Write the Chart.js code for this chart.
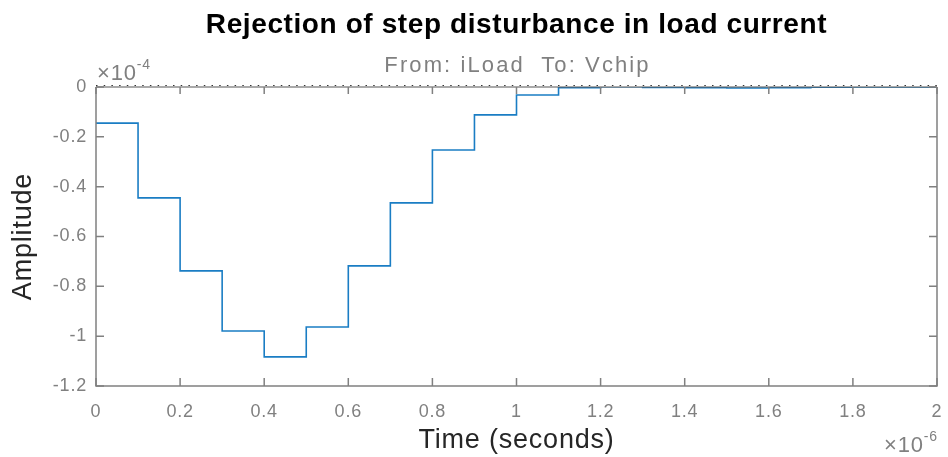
<!DOCTYPE html>
<html>
<head>
<meta charset="utf-8">
<script src="https://cdn.jsdelivr.net/npm/chart.js@4"></script>
<style>
  html, body { margin: 0; padding: 0; background: #fff; }
  #wrap { width: 948px; height: 457px; }
</style>
</head>
<body>
<div id="wrap"><canvas id="stepChart"></canvas></div>
<script>
// time in units of 1e-6 s, amplitude in units of 1e-4
const times = [0, 0.1, 0.2, 0.3, 0.4, 0.5, 0.6, 0.7, 0.8, 0.9, 1.0,
               1.1, 1.2, 1.3, 1.4, 1.5, 1.6, 1.7, 1.8, 1.9, 2.0];
const amplitude = [-0.145, -0.445, -0.738, -0.979, -1.083, -0.963, -0.718, -0.465, -0.253, -0.112, -0.032,
                   -0.003, 0.001, -0.002, -0.003, -0.004, -0.003, -0.001, 0, 0, 0];
const xTicks = [0, 0.2, 0.4, 0.6, 0.8, 1, 1.2, 1.4, 1.6, 1.8, 2];
const yTicks = [0, -0.2, -0.4, -0.6, -0.8, -1, -1.2];

const titleText = 'Rejection of step disturbance in load current';
const subtitleText = 'From: iLoad  To: Vchip';
const gray = '#808080';
const font = 'Helvetica, Arial, "Liberation Sans", sans-serif';

// MATLAB text looks a little wider than canvas text
const wideText = {
  id: 'wideText',
  beforeDraw(chart) { chart.ctx.letterSpacing = '0.8px'; }
};

// draws the MATLAB-ish frame: inward ticks, dotted zero line, titles and exponents
const matlabFrame = {
  id: 'matlabFrame',
  afterDatasetsDraw(chart) {
    const { ctx, chartArea: a, scales: { x, y } } = chart;
    ctx.save();
    // dotted zero line on top
    ctx.strokeStyle = '#333';
    ctx.lineWidth = 1.2;
    ctx.setLineDash([1.5, 6.2]);
    const y0 = y.getPixelForValue(0);
    ctx.beginPath();
    ctx.moveTo(a.left, y0 - 1.5);
    ctx.lineTo(a.right, y0 - 1.5);
    ctx.stroke();
    ctx.setLineDash([]);
    ctx.strokeStyle = '#555';
    ctx.beginPath();
    ctx.moveTo(a.left, y0);
    ctx.lineTo(a.right, y0);
    ctx.stroke();

    // box on left, bottom, right
    ctx.strokeStyle = gray;
    ctx.lineWidth = 1.5;
    ctx.beginPath();
    ctx.moveTo(a.left, a.top);
    ctx.lineTo(a.left, a.bottom);
    ctx.lineTo(a.right, a.bottom);
    ctx.lineTo(a.right, a.top);
    ctx.stroke();

    // inward ticks
    ctx.beginPath();
    xTicks.forEach(v => {
      const px = x.getPixelForValue(v);
      ctx.moveTo(px, a.bottom);
      ctx.lineTo(px, a.bottom - 8);
      ctx.moveTo(px, a.top);
      ctx.lineTo(px, a.top + 7);
    });
    yTicks.forEach(v => {
      const py = y.getPixelForValue(v);
      ctx.moveTo(a.left, py);
      ctx.lineTo(a.left + 8, py);
      ctx.moveTo(a.right, py);
      ctx.lineTo(a.right - 8, py);
    });
    ctx.stroke();

    // titles
    const cx = (a.left + a.right) / 2;
    ctx.textAlign = 'center';
    ctx.textBaseline = 'middle';
    ctx.fillStyle = '#000';
    ctx.letterSpacing = '0.6px';
    ctx.font = 'bold 28px ' + font;
    ctx.fillText(titleText, cx, 25);
    ctx.fillStyle = gray;
    ctx.letterSpacing = '2.1px';
    ctx.font = '22px ' + font;
    ctx.fillText(subtitleText, cx + 1, 66);

    // exponent labels
    const expo = (px, py, e) => {
      ctx.textAlign = 'left';
      ctx.letterSpacing = '0.8px';
      ctx.font = '22px ' + font;
      ctx.fillText('\u00d710', px, py);
      const w = ctx.measureText('\u00d710').width;
      ctx.font = '14px ' + font;
      ctx.fillText(e, px + w, py - 9);
    };
    expo(a.left + 1, 74, '-4');
    expo(a.right - 53, 446, '-6');
    ctx.restore();
  }
};

new Chart(document.getElementById('stepChart'), {
  type: 'line',
  data: {
    labels: times,
    datasets: [{
      data: times.map((t, i) => ({ x: t, y: amplitude[i] })),
      stepped: 'before',
      borderColor: '#1a7dc4',
      borderWidth: 1.6,
      pointRadius: 0,
      fill: false
    }]
  },
  options: {
    responsive: true,
    maintainAspectRatio: false,
    animation: false,
    layout: { padding: { top: 87, right: 11, left: 0, bottom: 0 } },
    plugins: {
      legend: { display: false },
      tooltip: { enabled: false }
    },
    scales: {
      x: {
        type: 'linear',
        min: 0,
        max: 2,
        afterFit(scale) {
          scale.height = 71;
          scale.paddingLeft = 0;
          scale.paddingRight = 0;
        },
        afterBuildTicks(scale) { scale.ticks = xTicks.map(v => ({ value: v })); },
        border: { display: false },
        grid: { display: false, drawTicks: false },
        ticks: {
          color: gray,
          padding: 15,
          font: { size: 18, family: font },
          callback: v => String(Number(v.toFixed(1)))
        },
        title: {
          display: true,
          text: 'Time (seconds)',
          color: '#262626',
          font: { size: 27, family: font },
          padding: { top: 0, bottom: 0 }
        }
      },
      y: {
        min: -1.2,
        max: 0,
        afterFit(scale) {
          scale.width = 96;
          scale.paddingTop = 0;
          scale.paddingBottom = 0;
        },
        afterBuildTicks(scale) { scale.ticks = yTicks.map(v => ({ value: v })); },
        border: { display: false },
        grid: { display: false, drawTicks: false },
        ticks: {
          color: gray,
          padding: 9,
          font: { size: 18, family: font },
          callback: v => String(Number(v.toFixed(1)))
        },
        title: {
          display: true,
          text: 'Amplitude',
          color: '#262626',
          font: { size: 27, family: font },
          padding: { top: 7, bottom: 0 }
        }
      }
    }
  },
  plugins: [wideText, matlabFrame]
});
</script>
</body>
</html>
